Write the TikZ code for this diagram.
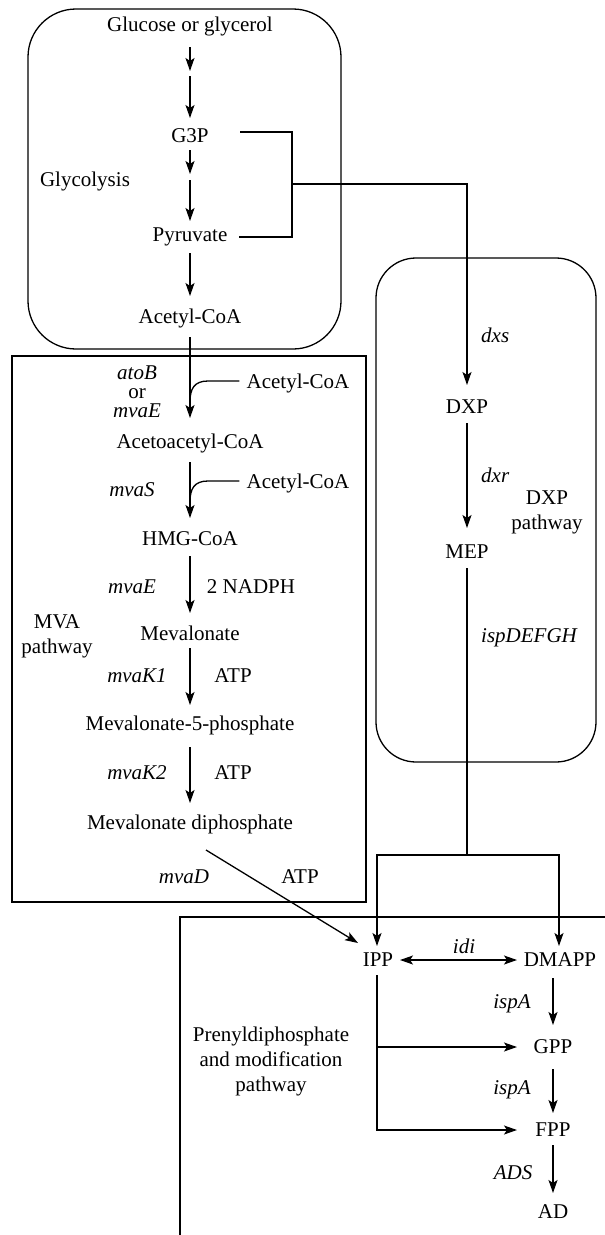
\documentclass[tikz,border=0pt]{standalone}
\usepackage{fontspec}
\setmainfont{Liberation Serif}
\newfontfamily\tnr{Liberation Serif}
\usetikzlibrary{arrows.meta,calc}
\begin{document}
\begin{tikzpicture}[x=1pt,y=-1pt,
  every node/.style={inner sep=0pt,font=\tnr\fontsize{21}{25}\selectfont},
  lbl/.style={},
  enz/.style={font=\tnr\fontsize{21}{25}\selectfont\itshape},
  multi/.style={align=center},
  line/.style={line width=1.3pt},
  arr/.style={line width=1.3pt,-{Stealth[length=13pt,width=9pt,inset=3pt]}},
  darr/.style={line width=1.3pt,{Stealth[length=13pt,width=9pt,inset=3pt]}-{Stealth[length=13pt,width=9pt,inset=3pt]}},
  boxline/.style={line width=1.3pt}]
\useasboundingbox (0,0) rectangle (605,1235);
\fill[white] (0,0) rectangle (605,1235);

% boxes
\draw[boxline,rounded corners=48pt] (28,9) rectangle (341,349);
\draw[boxline] (12,356) rectangle (366,902);
\draw[boxline,rounded corners=40pt] (376,258) rectangle (596,762);
\draw[boxline] (605,917) -- (180,917) -- (180,1235);

% glycolysis nodes
\node[lbl] (glc) at (190,26) {Glucose or glycerol};
\node[lbl] (g3p) at (190,136) {G3P};
\node[lbl] (glyco) at (85,181) {Glycolysis};
\node[lbl] (pyr) at (190,237) {Pyruvate};
\node[lbl] (acoa) at (190,318) {Acetyl-CoA};
\coordinate (m1) at (190,73);
\coordinate (m2) at (190,177);

% MVA nodes
\node[multi,font=\tnr\fontsize{21}{19}\selectfont] (atob) at (137,392) {\textit{atoB}\\or\\\textit{mvaE}};
\node[lbl] (acoa2) at (298,383) {Acetyl-CoA};
\node[lbl] (acac) at (190,443) {Acetoacetyl-CoA};
\node[enz] (mvas) at (132,490) {mvaS};
\node[lbl] (acoa3) at (298,483) {Acetyl-CoA};
\node[lbl] (hmg) at (190,539) {HMG-CoA};
\node[enz] (mvae) at (132,587) {mvaE};
\node[lbl] (nadph) at (251,587) {2 NADPH};
\node[multi] (mvap) at (57,636) {MVA\\pathway};
\node[lbl] (mev) at (190,633) {Mevalonate};
\node[enz] (mvak1) at (137,676) {mvaK1};
\node[lbl] (atp1) at (233,676) {ATP};
\node[lbl] (m5p) at (190,725) {Mevalonate-5-phosphate};
\node[enz] (mvak2) at (137,773) {mvaK2};
\node[lbl] (atp2) at (233,773) {ATP};
\node[lbl] (mdp) at (190,824) {Mevalonate diphosphate};
\node[enz] (mvad) at (184,877) {mvaD};
\node[lbl] (atp3) at (300,877) {ATP};

% DXP nodes
\node[enz,anchor=west] (dxs) at (481,335) {dxs};
\node[lbl] (dxp) at (467,407) {DXP};
\node[enz,anchor=west] (dxr) at (481,475) {dxr};
\node[multi] (dxpp) at (547,512) {DXP\\pathway};
\node[lbl] (mep) at (467,552) {MEP};
\node[enz,anchor=west] (isp) at (481,638) {ispDEFGH};

% prenyl nodes
\node[lbl] (ipp) at (378,960) {IPP};
\node[lbl] (dmapp) at (560,960) {DMAPP};
\node[enz] (idi) at (464,946) {idi};
\node[enz] (ispa1) at (512,1004) {ispA};
\node[lbl] (gpp) at (553,1047) {GPP};
\node[enz] (ispa2) at (512,1090) {ispA};
\node[lbl] (fpp) at (553,1130) {FPP};
\node[enz] (ads) at (513,1173) {ADS};
\node[lbl] (ad) at (553,1212) {AD};
\node[multi] (pren) at (271,1061) {Prenyldiphosphate\\and modification\\pathway};

% glycolysis connectors
\draw[arr] ($(glc)+(0,21)$) -- ($(m1)+(0,-2)$);
\draw[arr] ($(m1)+(0,3)$) -- ($(g3p)+(0,-18)$);
\draw[arr] ($(g3p)+(0,14)$) -- ($(m2)+(0,-3)$);
\draw[arr] ($(m2)+(0,3)$) -- ($(pyr)+(0,-16)$);
\draw[arr] ($(pyr)+(0,16)$) -- ($(acoa)+(0,-22)$);

% branch to DXP
\coordinate (brk) at (292,184);
\draw[line] ($(g3p)+(50,-4)$) -| (brk) |- ($(pyr)+(49,0)$);
\draw[arr] (brk) -| ($(dxp)+(0,-22)$);

% MVA connectors
\draw[arr] ($(acoa)+(0,19)$) -- ($(acac)+(0,-25)$);
\draw[line] ($(acoa2.west)+(-7,-2)$) -- (208,381) .. controls (194,381) and (190,389) .. (190,402);
\draw[arr] ($(acac)+(0,19)$) -- ($(hmg)+(0,-21)$);
\draw[line] ($(acoa3.west)+(-7,-2)$) -- (208,481) .. controls (194,481) and (190,489) .. (190,502);
\draw[arr] ($(hmg)+(0,17)$) -- ($(mev)+(0,-20)$);
\draw[arr] ($(mev)+(0,15)$) -- ($(m5p)+(0,-20)$);
\draw[arr] ($(m5p)+(0,22)$) -- ($(mdp)+(0,-21)$);
\draw[arr] ($(mdp)+(16,26)$) -- ($(ipp)+(-20,-17)$);

% DXP connectors
\draw[arr] ($(dxp)+(0,16)$) -- ($(mep)+(0,-24)$);
\coordinate (br) at (467,855);
\draw[line] ($(mep)+(0,16)$) -- (br);
\draw[arr] (br) -| ($(ipp)+(-1,-14)$);
\draw[arr] (br) -| ($(dmapp)+(-1,-14)$);

% prenyl connectors
\draw[darr] ($(ipp)+(22,0)$) -- ($(dmapp)+(-43,0)$);
\draw[arr] ($(dmapp)+(-7,18)$) -- ($(gpp)+(0,-22)$);
\draw[arr] ($(ipp)+(-1,15)$) |- ($(gpp)+(-36,0)$);
\draw[arr] ($(ipp)+(-1,15)$) |- ($(fpp)+(-36,0)$);
\draw[arr] ($(gpp)+(0,22)$) -- ($(fpp)+(0,-17)$);
\draw[arr] ($(fpp)+(0,15)$) -- ($(ad)+(0,-19)$);
\end{tikzpicture}
\end{document}
